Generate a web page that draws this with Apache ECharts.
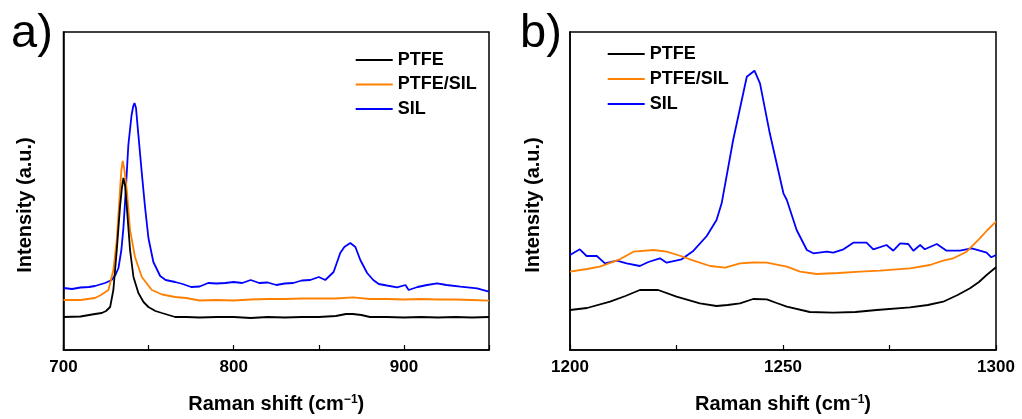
<!DOCTYPE html>
<html>
<head>
<meta charset="utf-8">
<script src="https://cdn.jsdelivr.net/npm/echarts@6/dist/echarts.min.js"></script>
<style>
  html, body { margin: 0; padding: 0; background: #fff; }
  #chart { width: 1022px; height: 419px; }
</style>
</head>
<body>
<div id="chart"></div>
<script>
// panel a) 700 - 950 cm-1
const aPtfeX = [700, 710, 718.5, 722.5, 725, 727.4, 729.3, 731.3, 733.2, 734.3, 735.2, 736.2, 737.2, 739.1, 741.1, 744, 747, 749.9, 754, 757.8, 765.6, 772, 780, 790, 800, 810, 820, 830, 840, 850, 860, 866, 870, 875, 880, 890, 900, 910, 920, 930, 940, 950];
const aPtfeY = [33, 33.5, 36, 37, 39, 43, 60, 100, 143, 162, 172, 164, 143, 100, 73, 57, 48, 43, 39, 37, 33, 33, 32.5, 33, 33, 32, 33, 32.5, 33, 33, 34, 36, 36, 35, 33, 33, 32.5, 33, 32.5, 33, 32.5, 33];
const aMixX = [700, 710, 718.5, 722, 726.4, 729.3, 731.3, 733.2, 734, 734.8, 735.8, 737.2, 739.1, 742, 746, 751.9, 758, 765.6, 772, 780, 790, 800, 810, 820, 830, 840, 850, 860, 870, 880, 890, 900, 910, 920, 930, 940, 950];
const aMixY = [50, 50, 52, 55, 60, 80, 110, 160, 180, 189, 180, 160, 120, 93, 73, 60, 55.5, 53, 52, 49.5, 50, 49.5, 50.5, 51, 51, 51.5, 51.5, 51.5, 52.7, 51, 51, 50.5, 51, 50.5, 50.5, 50, 49.3];
const aSilX = [700, 705, 710, 715, 718.5, 724.4, 728.3, 730.5, 732.3, 734, 735.2, 736.6, 738.1, 740, 741, 741.7, 742.6, 744, 746, 747.9, 749.9, 752.8, 756.8, 760, 765.6, 770, 775, 780, 785, 790, 795, 800, 805, 810, 815, 820, 825, 830, 835, 840, 845, 850, 853.8, 858.7, 862.6, 865, 868.5, 871.5, 874.4, 878.4, 882, 885.2, 890, 896, 900.9, 902.8, 908, 913.6, 919.5, 925, 933.2, 943, 949.9];
const aSilY = [62, 61, 62.5, 63, 64, 67, 70, 75, 82, 100, 122, 160, 205, 235, 244, 247, 242, 215, 177, 143, 112, 88, 74, 70, 68, 66, 63, 63.5, 67, 66.5, 67, 68, 67, 70, 67, 67.5, 65, 66.5, 67, 69.5, 70, 73, 70, 78, 97, 103, 107, 103, 90, 77, 70, 66, 64.5, 62.7, 65, 60, 63, 65, 66.7, 65, 63.3, 61.7, 58.3];

// panel b) 1200 - 1300 cm-1
const bPtfeX = [1200, 1204, 1209.4, 1213, 1216.4, 1220.7, 1225, 1230.5, 1234.4, 1237, 1239.9, 1243, 1246.2, 1248.5, 1250.9, 1256.3, 1261.8, 1267, 1272, 1279.8, 1284, 1287.6, 1291, 1293.9, 1296, 1297.8, 1300];
const bPtfeY = [40, 42, 48.3, 54, 60, 60, 53.3, 46.7, 44, 45, 46.7, 51, 50.7, 47, 43.3, 38, 37.3, 38, 40, 42.7, 45, 48.3, 55, 61.7, 68, 75, 82.7];
const bMixX = [1200, 1204, 1207, 1211.7, 1214.9, 1219.6, 1222.7, 1226, 1229, 1232.9, 1236.4, 1239.9, 1243, 1246.2, 1250.9, 1254, 1257.9, 1263, 1268.1, 1272.8, 1279.8, 1284.5, 1287.6, 1290, 1293.1, 1296.2, 1298, 1300];
const bMixY = [78.3, 81, 83.3, 90.7, 98.3, 100, 98.3, 94, 89.3, 84, 82.3, 86.7, 87.5, 87.3, 83.3, 78.3, 76, 77, 78.3, 79.3, 81.7, 85, 89.3, 91.7, 98.3, 111.7, 120, 128.3];
const bSilX = [1200, 1202.3, 1203.9, 1206.3, 1208.2, 1211, 1213.3, 1216.4, 1218.4, 1221.1, 1222.7, 1226.2, 1229, 1232.1, 1234.4, 1235.6, 1238.3, 1241.5, 1243.3, 1244.6, 1246.9, 1250.1, 1250.9, 1253.2, 1255.6, 1257.1, 1260.3, 1261.8, 1264.2, 1266.5, 1269.6, 1271.2, 1274.3, 1275.9, 1277.5, 1279.4, 1280.6, 1282.2, 1283.3, 1286.1, 1288.4, 1291.5, 1294.3, 1296.2, 1297.8, 1298.9, 1300];
const bSilY = [95, 100.7, 94, 94, 86.7, 89.3, 86.7, 84, 88, 91.7, 87.3, 90.7, 99.3, 114, 130, 146.7, 210, 273.3, 279.3, 266.7, 216.7, 156.7, 150, 120, 100, 96.7, 98.3, 97.3, 100.7, 107.3, 107.3, 100.7, 105, 99.3, 106.7, 106, 99.3, 105, 100.7, 106, 99.3, 99.3, 101.7, 99.3, 97.3, 92.7, 95];

const seriesNames = ['PTFE', 'PTFE/SIL', 'SIL'];
const seriesColors = ['#000000', '#FF8000', '#0000FF'];

const zip = (xs, ys) => xs.map((x, i) => [x, ys[i]]);
const FONT = '"Liberation Sans", Arial, sans-serif';

const makeSeries = (idx, sets) => sets.map((s, i) => ({
  name: seriesNames[i],
  type: 'line',
  xAxisIndex: idx,
  yAxisIndex: idx,
  symbol: 'none',
  data: zip(s[0], s[1]),
  lineStyle: { color: seriesColors[i], width: 1.8 },
  itemStyle: { color: seriesColors[i] },
  z: 3 - i
}));

const makeX = (idx, min, max, step, labelStep) => ({
  gridIndex: idx,
  type: 'value',
  min: min,
  max: max,
  interval: step,
  name: '{a|Raman shift (cm}{s|−1}{a|)}',
  nameLocation: 'middle',
  nameGap: 44,
  nameTextStyle: {
    rich: {
      a: { fontFamily: FONT, fontWeight: 'bold', fontSize: 20, color: '#000' },
      s: { fontFamily: FONT, fontWeight: 'bold', fontSize: 12, color: '#000', verticalAlign: 'top' }
    }
  },
  axisLine: { show: true, lineStyle: { color: '#000', width: 1.5 } },
  axisTick: { show: true, inside: true, length: 5, lineStyle: { color: '#000', width: 1.2 } },
  axisLabel: {
    margin: 9,
    fontFamily: FONT, fontWeight: 'bold', fontSize: 17, color: '#000',
    formatter: v => (v % labelStep === 0 ? String(v) : '')
  },
  splitLine: { show: false }
});

const makeY = idx => ({
  gridIndex: idx,
  type: 'value',
  min: 0,
  max: 318,
  axisLine: { show: true, lineStyle: { color: '#000', width: 1.5 } },
  axisTick: { show: false },
  axisLabel: { show: false },
  splitLine: { show: false }
});

const makeLegend = (left, top, gap) => ({
  orient: 'vertical',
  left: left,
  top: top,
  padding: 0,
  icon: 'rect',
  itemWidth: 37,
  itemHeight: 2,
  itemGap: gap,
  data: seriesNames,
  textStyle: { fontFamily: FONT, fontWeight: 'bold', fontSize: 18, color: '#000', lineHeight: 20 }
});

const yTitle = (x) => ({
  type: 'text',
  x: x,
  y: 205,
  rotation: Math.PI / 2,
  style: {
    text: 'Intensity (a.u.)',
    fontFamily: FONT, fontWeight: 'bold', fontSize: 20, fill: '#000',
    align: 'center', verticalAlign: 'middle'
  }
});

const panelTag = (x, txt) => ({
  type: 'text',
  x: x,
  y: 11,
  style: { text: txt, fontFamily: FONT, fontSize: 47, fill: '#000' }
});

const chart = echarts.init(document.getElementById('chart'));
chart.setOption({
  animation: false,
  backgroundColor: '#fff',
  grid: [
    { left: 63.5, top: 32, width: 425.5, height: 318, show: true, borderColor: '#000', borderWidth: 1.5 },
    { left: 570, top: 32, width: 426, height: 318, show: true, borderColor: '#000', borderWidth: 1.5 }
  ],
  xAxis: [makeX(0, 700, 950, 50, 100), makeX(1, 1200, 1300, 25, 50)],
  yAxis: [makeY(0), makeY(1)],
  legend: [makeLegend(355.7, 50, 4.5), makeLegend(607.7, 44, 5)],
  graphic: [yTitle(25.5), yTitle(533), panelTag(11, 'a)'), panelTag(520, 'b)')],
  series: [
    ...makeSeries(0, [[aPtfeX, aPtfeY], [aMixX, aMixY], [aSilX, aSilY]]),
    ...makeSeries(1, [[bPtfeX, bPtfeY], [bMixX, bMixY], [bSilX, bSilY]])
  ]
});
</script>
</body>
</html>
